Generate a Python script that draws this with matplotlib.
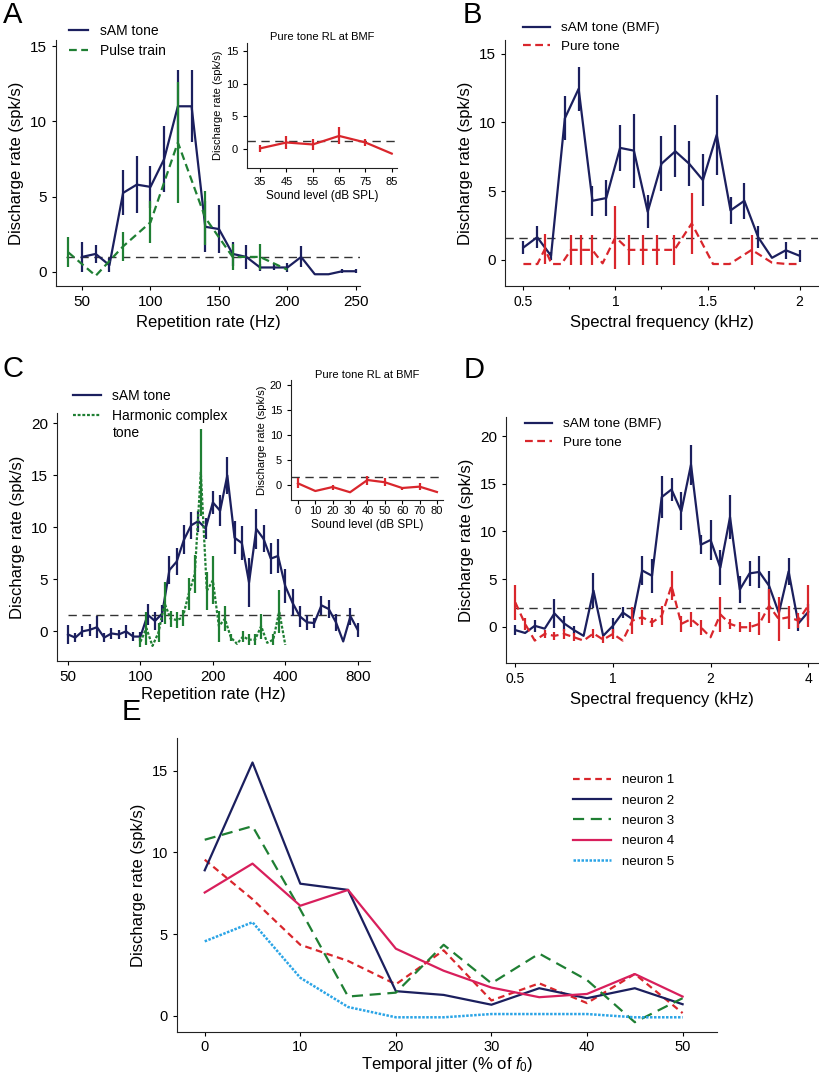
import matplotlib.pyplot as plt
from matplotlib.ticker import FixedLocator, NullLocator

plt.rcParams['font.family'] = ['Liberation Sans', 'DejaVu Sans']
plt.rcParams['mathtext.fontset'] = 'custom'
plt.rcParams['mathtext.rm'] = 'Liberation Sans'
plt.rcParams['mathtext.it'] = 'Liberation Sans:italic'

NAVY = '#1b1f5e'
GREEN = '#1f7f33'
RED = '#d9262c'
CRIMSON = '#d81f5c'
SKY = '#2aa4e6'
BASE_COLOR = '#333333'

### Panel A : sAM tone vs pulse train
A_SAM_X = [50, 60, 70, 80, 90, 100, 110, 120, 130, 140, 150, 160, 170, 180, 190, 200, 210, 220, 230, 240, 250]
A_SAM_Y = [1.0, 1.2, 0.45, 5.25, 5.8, 5.65, 7.5, 11.0, 11.0, 3.0, 2.85, 1.2, 1.0, 0.3, 0.3, 0.3, 1.0, -0.15, -0.15, 0.05, 0.05]
A_SAM_ERR = [1.0, 0.6, 0.45, 1.5, 1.9, 1.4, 2.2, 2.4, 2.4, 1.7, 1.6, 0.8, 0.8, 0.25, 0.2, 0.3, 0.7, 0, 0, 0.15, 0.15]
A_PULSE_X = [40, 60, 80, 100, 120, 140, 160, 180, 200]
A_PULSE_Y = [1.3, -0.25, 1.7, 3.3, 8.6, 3.6, 1.0, 1.0, 0.15]
A_PULSE_ERR = [1.0, 0, 0.95, 1.4, 4.0, 1.8, 0.85, 0.85, 0]
A_BASE = 1.0
A_BASE_SPAN = (38, 253)

A_RL_X = [35, 45, 55, 65, 75, 85]
A_RL_Y = [0.1, 1.0, 0.7, 2.0, 1.0, -0.7]
A_RL_ERR = [0.5, 1.0, 0.9, 1.3, 0.6, 0]
A_RL_BASE = 1.2

### Panel B : spectral tuning
B_SAM_X = [0.5, 0.575, 0.65, 0.725, 0.8, 0.875, 0.95, 1.025, 1.1, 1.175, 1.25, 1.325, 1.4, 1.475, 1.55, 1.625, 1.7, 1.775, 1.85, 1.925, 2.0]
B_SAM_Y = [0.9, 1.65, 0.3, 10.3, 12.45, 4.3, 4.5, 8.15, 7.95, 3.5, 7.0, 7.9, 7.0, 5.8, 9.1, 3.6, 4.3, 1.65, 0.15, 0.7, 0.3]
B_SAM_ERR = [0.5, 0.8, 0.3, 1.6, 1.6, 1.1, 1.3, 1.7, 2.7, 1.2, 2.0, 1.9, 1.65, 1.9, 2.9, 1.0, 1.3, 0.8, 0, 0.6, 0.45]
B_PURE_X = [0.5, 0.576, 0.617, 0.653, 0.707, 0.758, 0.812, 0.874, 0.93, 1.0, 1.073, 1.15, 1.228, 1.32, 1.414, 1.53, 1.62, 1.74, 1.85, 1.93, 2.0]
B_PURE_Y = [-0.3, -0.3, 0.8, -0.3, -0.3, 0.73, 0.73, 0.73, -0.25, 1.65, 0.73, 0.73, 0.73, 0.73, 2.65, -0.3, -0.3, 0.73, -0.2, -0.3, -0.3]
B_PURE_ERR = [0, 0, 1.1, 0, 0, 1.1, 1.1, 1.1, 0, 2.3, 1.1, 1.1, 1.1, 1.1, 2.25, 0, 0, 1.1, 0, 0, 0]
B_BASE = 1.6

### Panel C : sAM tone vs harmonic complex tone
C_SAM_X = [50, 53.6, 57.4, 61.6, 66.0, 70.7, 75.8, 81.2, 87.1, 93.3, 100, 107.2, 114.9, 123.1, 132.0, 141.4,
           151.6, 162.5, 174.1, 186.6, 200, 214.4, 229.7, 246.2, 263.9, 282.8, 303.1, 324.9, 348.2, 373.2,
           400, 428.7, 459.5, 492.5, 527.8, 565.7, 606.3, 649.8, 696.4, 746.4, 800]
C_SAM_Y = [-0.3, -0.6, 0.0, 0.15, 0.4, -0.6, -0.2, -0.3, 0.0, -0.5, -0.5, 1.6, 1.0, 1.7, 5.9, 6.7, 8.8, 10.2,
           10.6, 9.9, 12.4, 11.6, 15.0, 9.0, 8.5, 4.7, 9.85, 8.9, 7.0, 7.25, 4.35, 2.75, 1.45, 0.87, 0.8, 2.5,
           2.15, 0.87, -0.97, 1.45, 0.15]
C_SAM_ERR = [0.95, 0.4, 0.5, 0.55, 1.05, 0.45, 0.5, 0.45, 0.6, 0.45, 0.45, 1.0, 0.9, 0.8, 1.3, 1.3, 1.4, 1.3,
             1.0, 1.0, 1.1, 1.5, 1.8, 1.6, 1.6, 2.4, 1.9, 1.3, 1.5, 1.6, 1.6, 1.3, 1.0, 0.7, 0.5, 0.9, 0.9,
             0.8, 0.0, 0.8, 0.7]
C_HCT_X = [100, 105.9, 112.2, 118.9, 126, 133.5, 141.4, 149.8, 158.7, 168.2, 178.2, 188.8, 200, 211.9, 224.5,
           237.8, 252, 267, 282.8, 299.7, 317.5, 336.4, 356.4, 377.6, 400]
C_HCT_Y = [-1.0, 0.3, -1.4, -0.1, 2.7, 1.2, 1.1, 1.3, 3.6, 5.5, 15.3, 3.9, 4.9, 0.5, 1.2, -0.6, -1.2, -0.5,
           -0.8, -0.8, 0.5, -1.1, -0.8, 1.9, -1.3]
C_HCT_ERR = [0.5, 1.6, 0, 0.9, 2.0, 0.8, 0.8, 0.8, 1.5, 1.8, 4.2, 1.8, 2.3, 1.5, 1.2, 0.3, 0, 0.5, 0.5, 0.5,
             1.2, 0, 0.5, 2.1, 0]
C_BASE = 1.6
C_BASE_SPAN = (50, 800)

C_RL_X = [0, 10, 20, 30, 40, 50, 60, 70, 80]
C_RL_Y = [0.33, -1.2, -0.4, -1.45, 1.0, 0.55, -0.6, -0.33, -1.4]
C_RL_ERR = [1.0, 0, 0.5, 0, 0.9, 0.8, 0.3, 0.7, 0]
C_RL_BASE = 1.7

### Panel D : spectral tuning (log)
D_X = [0.5, 0.536, 0.574, 0.616, 0.660, 0.707, 0.758, 0.812, 0.871, 0.933, 1.0, 1.072, 1.149, 1.231, 1.320,
       1.414, 1.516, 1.625, 1.741, 1.866, 2.0, 2.144, 2.297, 2.462, 2.639, 2.828, 3.031, 3.249, 3.482, 3.732, 4.0]
D_SAM_Y = [-0.35, -0.65, 0.1, -0.2, 1.4, 0.35, -0.35, -0.95, 3.8, -0.95, 0.1, 1.5, 0.8, 5.9, 5.35, 13.6, 14.4,
           12.1, 17.0, 8.6, 9.1, 6.2, 11.5, 3.9, 5.6, 5.75, 4.3, 1.45, 5.8, 0.35, 1.55]
D_SAM_ERR = [0.5, 0, 0.6, 0, 1.5, 0.8, 0.4, 0, 1.8, 0, 0.8, 0.6, 0, 1.5, 1.8, 2.2, 1.2, 2.0, 2.1, 1.0, 2.1,
             1.8, 2.3, 1.4, 1.3, 1.7, 1.5, 0, 1.4, 0.8, 0.8]
D_PURE_Y = [2.55, 0.3, -1.45, -0.75, -0.95, -0.75, -1.1, -1.45, -0.7, -1.35, -0.75, -1.45, 0.65, 1.0, 0.45,
            1.15, 4.3, 0.3, 0.8, -0.05, -1.1, 1.3, 0.3, -0.05, -0.05, 0.3, 2.2, 0.8, 1.0, 0.65, 2.2]
D_PURE_ERR = [1.8, 0.6, 0, 0.4, 0.4, 0.5, 0.4, 0, 0.5, 0.4, 0.5, 0, 1.4, 0.8, 0.5, 1.0, 1.5, 0.8, 0.8, 0.8, 0,
              1.8, 0.5, 0.5, 0.5, 1.2, 1.8, 2.3, 1.2, 0.8, 2.2]
D_BASE = 2.0
D_BASE_SPAN = (0.5, 4.0)

### Panel E : temporal jitter
E_JITTER = [0, 5, 10, 15, 20, 25, 30, 35, 40, 45, 50]
E_NEURON1 = [9.55, 7.13, 4.34, 3.35, 1.92, 4.0, 0.93, 1.98, 0.77, 2.55, 0.16]
E_NEURON2 = [8.9, 15.5, 8.08, 7.7, 1.5, 1.27, 0.67, 1.68, 1.07, 1.68, 0.7]
E_NEURON3 = [10.77, 11.6, 6.5, 1.17, 1.41, 4.34, 1.98, 3.8, 2.18, -0.4, 1.07]
E_NEURON4 = [7.54, 9.31, 6.73, 7.7, 4.1, 2.75, 1.72, 1.13, 1.33, 2.55, 1.17]
E_NEURON5 = [4.55, 5.72, 2.32, 0.53, -0.1, -0.1, 0.1, 0.1, 0.1, -0.1, -0.1]

W, H = 820, 1078
fig = plt.figure(figsize=(W / 100, H / 100), dpi=100)


def box(left, top, right, bottom):
    return [left / W, 1 - bottom / H, (right - left) / W, (bottom - top) / H]


def style(ax, size=11):
    for s in ('top', 'right'):
        ax.spines[s].set_visible(False)
    for s in ('left', 'bottom'):
        ax.spines[s].set_color('#222222')
    ax.tick_params(direction='out', length=3, width=0.8, labelsize=size)


def curve(ax, x, y, err, color, ls, label=None, lw=1.6):
    # bars first, line on top (line alone goes in the legend)
    ax.errorbar(x, y, yerr=err, fmt='none', ecolor=color, elinewidth=lw, capsize=0)
    ax.plot(x, y, color=color, ls=ls, lw=lw, label=label)


def legend(ax, x, y, size=10, hl=2.0, **kw):
    ax.legend(loc='upper left', bbox_to_anchor=(x / W, 1 - y / H), bbox_transform=fig.transFigure,
              frameon=False, fontsize=size, handlelength=hl, borderpad=0, borderaxespad=0,
              handletextpad=0.8, **kw)


def letter(x, y, s):
    fig.text(x / W, 1 - y / H, s, fontsize=21, va='top', ha='left')


dash = (0, (6, 4))

# ---- A
ax = fig.add_axes(box(56, 40, 360, 286))
style(ax)
ax.hlines(A_BASE, *A_BASE_SPAN, color=BASE_COLOR, lw=1, linestyles=[dash])
curve(ax, A_SAM_X, A_SAM_Y, A_SAM_ERR, NAVY, '-', 'sAM tone')
curve(ax, A_PULSE_X, A_PULSE_Y, A_PULSE_ERR, GREEN, (0, (3.5, 2)), 'Pulse train')
ax.set_xlim(31, 253)
ax.set_ylim(-0.93, 15.4)
ax.set_xticks([50, 100, 150, 200, 250])
ax.set_yticks([0, 5, 10, 15])
ax.set_xlabel('Repetition rate (Hz)', fontsize=12)
ax.set_ylabel('Discharge rate (spk/s)', fontsize=12)
legend(ax, 69, 24, hl=1.4, labelspacing=0.45)
letter(3, 1, 'A')

ax = fig.add_axes(box(247, 43, 397, 168))
style(ax, 8)
ax.axhline(A_RL_BASE, color=BASE_COLOR, lw=1, ls=dash)
curve(ax, A_RL_X, A_RL_Y, A_RL_ERR, RED, '-')
ax.set_xlim(30, 87)
ax.set_ylim(-2.9, 16.2)
ax.set_xticks(A_RL_X)
ax.set_yticks([0, 5, 10, 15])
ax.set_xlabel('Sound level (dB SPL)', fontsize=8.5, labelpad=2)
ax.set_ylabel('Discharge rate (spk/s)', fontsize=8, labelpad=2)
ax.set_title('Pure tone RL at BMF', fontsize=8, pad=2)

# ---- B
ax = fig.add_axes(box(505, 40, 818, 286))
style(ax)
ax.axhline(B_BASE, color=BASE_COLOR, lw=1, ls=dash)
curve(ax, B_SAM_X, B_SAM_Y, B_SAM_ERR, NAVY, '-', 'sAM tone (BMF)')
curve(ax, B_PURE_X, B_PURE_Y, B_PURE_ERR, RED, (0, (3.5, 2)), 'Pure tone')
ax.set_xlim(0.40, 2.1)
ax.set_ylim(-1.9, 16.0)
ax.set_xticks([0.5, 1, 1.5, 2], ['0.5', '1', '1.5', '2'])
ax.xaxis.set_minor_locator(FixedLocator([0.75, 1.25, 1.75]))
ax.tick_params(axis='x', which='both', labelsize=10)
ax.tick_params(axis='x', which='minor', length=2, width=0.8)
ax.set_yticks([0, 5, 10, 15])
ax.set_xlabel('Spectral frequency (kHz)', fontsize=12)
ax.set_ylabel('Discharge rate (spk/s)', fontsize=12)
legend(ax, 523, 22, size=9.7, labelspacing=0.45)
letter(463, 1, 'B')

# ---- C
ax = fig.add_axes(box(57, 413, 370, 661))
style(ax)
ax.set_xscale('log', base=2)
ax.hlines(C_BASE, *C_BASE_SPAN, color=BASE_COLOR, lw=1, linestyles=[dash])
curve(ax, C_SAM_X, C_SAM_Y, C_SAM_ERR, NAVY, '-', 'sAM tone')
curve(ax, C_HCT_X, C_HCT_Y, C_HCT_ERR, GREEN, (0, (1.3, 0.8)), 'Harmonic complex')
ax.set_xlim(45, 900)
ax.set_ylim(-2.85, 21.0)
ax.xaxis.set_major_locator(FixedLocator([50, 100, 200, 400, 800]))
ax.xaxis.set_minor_locator(NullLocator())
ax.set_xticklabels(['50', '100', '200', '400', '800'])
ax.set_yticks([0, 5, 10, 15, 20])
ax.set_xlabel('Repetition rate (Hz)', fontsize=12, labelpad=2)
ax.set_ylabel('Discharge rate (spk/s)', fontsize=12)
legend(ax, 73, 389, labelspacing=0.45)
fig.text(113 / W, 1 - 433 / H, 'tone', fontsize=10, va='center', ha='left')
letter(2, 355, 'C')

ax = fig.add_axes(box(291, 380, 443, 500))
style(ax, 8)
ax.axhline(C_RL_BASE, color=BASE_COLOR, lw=1, ls=dash)
curve(ax, C_RL_X, C_RL_Y, C_RL_ERR, RED, '-')
ax.set_xlim(-4, 83.5)
ax.set_ylim(-3, 21)
ax.set_xticks(C_RL_X)
ax.set_yticks([0, 5, 10, 15, 20])
ax.tick_params(axis='x', pad=1.5)
ax.set_xlabel('Sound level (dB SPL)', fontsize=8.5, labelpad=2)
ax.set_ylabel('Discharge rate (spk/s)', fontsize=8, labelpad=2)
ax.set_title('Pure tone RL at BMF', fontsize=8, pad=0)

# ---- D
ax = fig.add_axes(box(506, 417, 818, 663))
style(ax)
ax.set_xscale('log', base=2)
ax.hlines(D_BASE, *D_BASE_SPAN, color=BASE_COLOR, lw=1, linestyles=[dash])
curve(ax, D_X, D_SAM_Y, D_SAM_ERR, NAVY, '-', 'sAM tone (BMF)')
curve(ax, D_X, D_PURE_Y, D_PURE_ERR, RED, (0, (3.5, 2)), 'Pure tone')
ax.set_xlim(0.468, 4.29)
ax.set_ylim(-3.8, 22.0)
ax.xaxis.set_major_locator(FixedLocator([0.5, 1, 2, 4]))
ax.xaxis.set_minor_locator(NullLocator())
ax.set_xticklabels(['0.5', '1', '2', '4'])
ax.tick_params(axis='x', labelsize=10)
ax.set_yticks([0, 5, 10, 15, 20])
ax.set_xlabel('Spectral frequency (kHz)', fontsize=12)
ax.set_ylabel('Discharge rate (spk/s)', fontsize=12)
legend(ax, 525, 418, size=9.7, labelspacing=0.45)
letter(464, 356, 'D')

# ---- E
ax = fig.add_axes(box(177, 738, 717, 1032))
style(ax, 10.5)
ax.tick_params(axis='x', pad=2.5)
ax.plot(E_JITTER, E_NEURON1, color=RED, lw=1.6, ls=(0, (3, 2)), label='neuron 1')
ax.plot(E_JITTER, E_NEURON2, color=NAVY, lw=1.6, ls='-', label='neuron 2')
ax.plot(E_JITTER, E_NEURON3, color=GREEN, lw=1.6, ls=(0, (5, 3)), label='neuron 3')
ax.plot(E_JITTER, E_NEURON4, color=CRIMSON, lw=1.6, ls='-', label='neuron 4')
ax.plot(E_JITTER, E_NEURON5, color=SKY, lw=1.8, ls=(0, (1, 0.6)), label='neuron 5')
ax.set_xlim(-2.9, 53.6)
ax.set_ylim(-1.0, 17.0)
ax.set_xticks([0, 10, 20, 30, 40, 50])
ax.set_yticks([0, 5, 10, 15])
ax.set_xlabel('Temporal jitter (% of $f_{\\mathit{0}}$)', fontsize=12, labelpad=1)
ax.set_ylabel('Discharge rate (spk/s)', fontsize=12)
legend(ax, 573, 774, size=9.5, hl=2.9, labelspacing=0.62)
letter(122, 698, 'E')

fig.savefig('out.png', dpi=100)
